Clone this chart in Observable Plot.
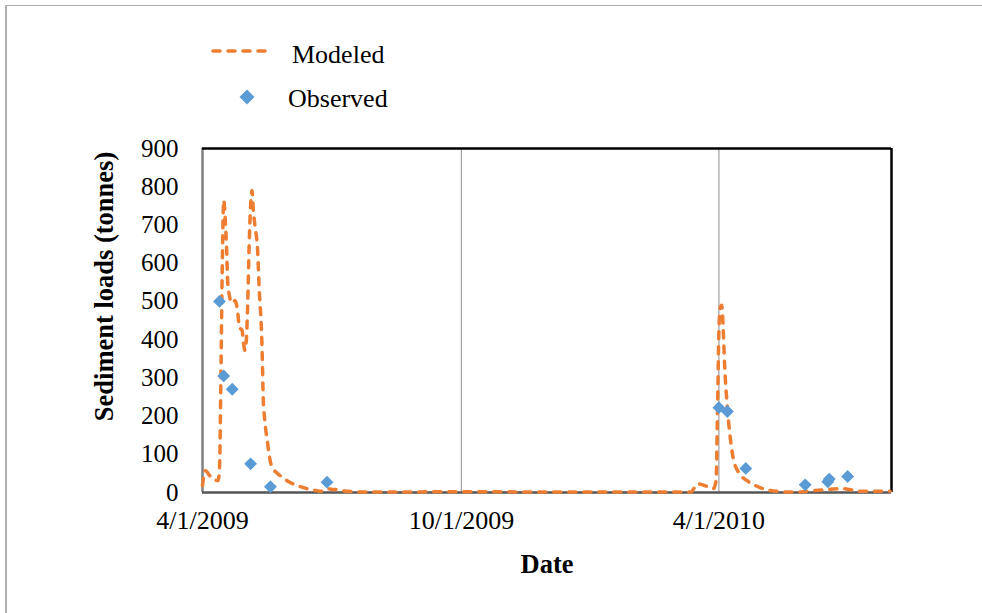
<!DOCTYPE html>
<html>
<head>
<meta charset="utf-8">
<script src="https://cdn.jsdelivr.net/npm/d3@7"></script>
<script src="https://cdn.jsdelivr.net/npm/@observablehq/plot@0.6"></script>
<style>
  html, body { margin: 0; padding: 0; background: #fff; overflow: hidden; }
  #wrap { position: relative; width: 982px; height: 613px; overflow: hidden; font-family: "Liberation Serif", "Times New Roman", serif; }
  #border { position: absolute; left: 5px; top: 5px; width: 1100px; height: 800px; border-left: 2px solid #b0b0b0; border-top: 1.5px solid #b0b0b0; }
  #legend { position: absolute; left: 0; top: 0; width: 982px; height: 130px; }
  .lg-item { position: absolute; font-size: 26px; color: #000; line-height: 1; white-space: nowrap; }
  #chart { position: absolute; left: 0; top: 0; }
</style>
</head>
<body>
<div id="wrap">
  <div id="border"></div>
  <div id="chart"></div>
  <div id="legend">
    <svg style="position:absolute;left:0;top:0" width="400" height="130">
      <line x1="213" y1="51" x2="272" y2="51" stroke="#ED7D31" stroke-width="3.5" stroke-dasharray="7,8" stroke-linecap="round"></line>
      <path d="M247,89.5 L254.5,97 L247,104.5 L239.5,97 Z" fill="#5B9BD5"></path>
    </svg>
    <div class="lg-item" style="left:292px;top:42px;">Modeled</div>
    <div class="lg-item" style="left:288px;top:86px;">Observed</div>
  </div>
</div>
<script>
// ---- Data ----
const seriesNames = ["Modeled", "Observed"];

const modeledDates = [
  "2009-04-01","2009-04-03","2009-04-07","2009-04-12","2009-04-13","2009-04-14","2009-04-15","2009-04-16",
  "2009-04-17","2009-04-18","2009-04-19","2009-04-22","2009-04-24","2009-04-26","2009-04-27","2009-04-29",
  "2009-04-30","2009-05-01","2009-05-02","2009-05-03","2009-05-04","2009-05-05","2009-05-06","2009-05-07",
  "2009-05-08","2009-05-10","2009-05-11","2009-05-13","2009-05-14","2009-05-15","2009-05-17","2009-05-19",
  "2009-05-21","2009-05-24","2009-05-28","2009-06-02","2009-06-08","2009-06-14","2009-06-20","2009-06-24",
  "2009-06-28","2009-07-02","2009-07-05","2009-07-10","2009-07-17","2009-07-31","2009-08-15","2009-09-15",
  "2009-10-15","2009-11-15","2009-12-15","2010-01-15","2010-02-15","2010-03-12","2010-03-17","2010-03-22",
  "2010-03-28","2010-03-30","2010-03-31","2010-04-01","2010-04-02","2010-04-03","2010-04-04","2010-04-05",
  "2010-04-07","2010-04-09","2010-04-11","2010-04-15","2010-04-21","2010-04-30","2010-05-12","2010-05-24",
  "2010-06-07","2010-06-28","2010-07-10","2010-07-31"
];
const modeledValues = [
  18, 57, 40, 31, 60, 300, 600, 765,
  720, 640, 540, 495, 502, 468, 432, 424,
  390, 372, 400, 500, 650, 750, 790, 735,
  700, 630, 540, 390, 240, 190, 130, 80,
  62, 50, 38, 26, 17, 10, 5, 3,
  10, 8, 8, 4, 2, 1, 1, 2,
  2, 1.5, 1, 1, 1, 1, 23, 18,
  10, 31, 206, 423, 484, 490, 432, 337,
  222, 144, 92, 52, 31, 13, 3, 1,
  5, 10, 3, 3
];

const observedDates = [
  "2009-04-13","2009-04-16","2009-04-22","2009-05-05","2009-05-19","2009-06-28",
  "2010-04-01","2010-04-07","2010-04-20","2010-06-01","2010-06-17","2010-06-18","2010-07-01"
];
const observedValues = [500, 305, 270, 75, 15, 27, 222, 212, 63, 20, 28, 35, 42];

const xTickDates = ["2009-04-01", "2009-10-01", "2010-04-01"];
const xTickLabels = ["4/1/2009", "10/1/2009", "4/1/2010"];
const yTicks = [0, 100, 200, 300, 400, 500, 600, 700, 800, 900];
const xDomain = ["2009-04-01", "2010-08-01"];
const yDomain = [0, 900];
const xTitle = "Date";
const yTitle = "Sediment loads (tonnes)";

// ---- Build ----
const parse = d3.utcParse("%Y-%m-%d");
const modeled = modeledDates.map((d, i) => ({date: parse(d), value: modeledValues[i]}));
const observed = observedDates.map((d, i) => ({date: parse(d), value: observedValues[i]}));
const xTicks = xTickDates.map(parse);
const labelFor = new Map(xTickDates.map((d, i) => [+parse(d), xTickLabels[i]]));
const xStart = parse(xDomain[0]);
const xEnd = parse(xDomain[1]);

const chart = Plot.plot({
  width: 982,
  height: 613,
  marginLeft: 202,
  marginRight: 91,
  marginTop: 148,
  marginBottom: 121,
  style: {fontFamily: "'Liberation Serif', 'Times New Roman', serif", fontSize: "26px", color: "#000", background: "transparent", overflow: "visible"},
  x: {type: "utc", domain: [xStart, xEnd]},
  y: {domain: yDomain},
  marks: [
    Plot.ruleX(xTicks.slice(1), {stroke: "#a0a0a0", strokeWidth: 1.2}),
    Plot.ruleX([xStart], {stroke: "#808080", strokeWidth: 2.5}),
    Plot.ruleX([xEnd], {stroke: "#000", strokeWidth: 2.5}),
    Plot.ruleY([900], {stroke: "#000", strokeWidth: 2.5}),
    Plot.ruleY([0], {stroke: "#555", strokeWidth: 2.5}),
    Plot.axisY({ticks: yTicks, tickSize: 0, tickPadding: 24, label: null, fontSize: 25}),
    Plot.axisX({ticks: xTicks, tickSize: 0, tickPadding: 18, label: null, fontSize: 26,
      tickFormat: d => labelFor.get(+d)}),
    Plot.line(modeled, {x: "date", y: "value", stroke: "#ED7D31", strokeWidth: 3.5,
      strokeDasharray: "7,8", strokeLinecap: "round", curve: "monotone-x"}),
    Plot.dot(observed, {x: "date", y: "value", symbol: "diamond2", r: 5.8, fill: "#5B9BD5", stroke: null}),
    Plot.text([yTitle], {frameAnchor: "left", dx: -98, dy: -34, rotate: -90, text: d => d,
      fontWeight: "bold", fontSize: 26.5, textAnchor: "middle", lineAnchor: "middle"}),
    Plot.text([xTitle], {frameAnchor: "bottom", dy: 72, text: d => d,
      fontWeight: "bold", fontSize: 26.5, textAnchor: "middle", lineAnchor: "middle"})
  ]
});
document.getElementById("chart").appendChild(chart);
</script>
</body>
</html>
